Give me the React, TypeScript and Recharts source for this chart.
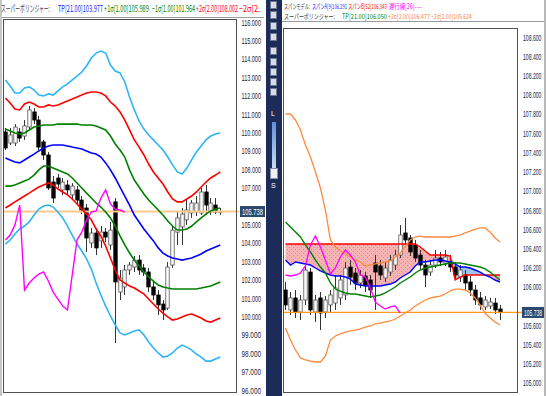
import { useLayoutEffect, useRef, useState } from 'react';
import { ComposedChart, Bar, Line, Area, XAxis, YAxis, ReferenceLine } from 'recharts';

const NUM_FONT = '"Liberation Sans", Arial, sans-serif';
const JP_FONT = '"Noto Sans CJK JP", "Noto Sans", sans-serif';

// ---- left panel (daily) ----
const L_OPEN = [110.06, 109.46, 109.46, 110.06, 109.84, 110.33, 111.15, 110.71, 109.52, 108.81, 107.34, 107.56, 106.91, 107.18, 106.64, 106.91, 106.36, 105.93, 104.03, 104.57, 104.14, 104.62, 103.92, 106.26, 101.36, 101.64, 102.56, 102.72, 103.1, 102.67, 102.45, 101.64, 101.2, 100.71, 100.49, 102.83, 104.62, 104.9, 105.28, 105.66, 105.71, 105.66, 106.8, 105.71, 106.09, 105.74];
const L_HIGH = [110.28, 110.28, 110.49, 110.28, 110.71, 111.47, 111.36, 110.93, 109.63, 108.97, 107.67, 107.78, 107.56, 107.45, 107.28, 107.12, 106.58, 106.15, 104.84, 104.84, 104.95, 104.84, 105.17, 106.47, 102.56, 102.83, 102.99, 103.32, 103.37, 102.89, 102.67, 101.91, 101.47, 100.93, 102.99, 104.95, 105.71, 105.93, 106.36, 106.36, 106.58, 107.02, 107.18, 106.47, 106.47, 105.93];
const L_LOW = [109.08, 109.35, 109.3, 109.52, 109.63, 110.17, 110.49, 109.08, 108.54, 106.91, 106.2, 107.02, 106.64, 106.64, 106.36, 106.09, 105.6, 103.54, 103.76, 103.37, 103.76, 104.08, 103.65, 98.59, 100.93, 101.2, 102.29, 102.45, 102.29, 102.23, 101.36, 100.93, 100.11, 99.84, 100.39, 102.67, 103.92, 103.92, 105.01, 105.39, 105.49, 105.55, 105.55, 105.55, 105.6, 105.55];
const L_CLOSE = [109.19, 109.9, 110.33, 109.73, 110.39, 111.26, 110.71, 109.24, 108.81, 107.02, 106.47, 107.23, 107.34, 106.91, 107.12, 106.36, 105.82, 104.3, 104.57, 103.76, 104.62, 104.35, 104.73, 101.91, 102.12, 102.56, 102.83, 103.1, 102.56, 102.45, 101.64, 101.2, 100.66, 100.39, 102.72, 104.73, 105.39, 105.6, 105.82, 106.2, 106.2, 106.8, 106.09, 106.2, 105.71, 105.74];

const L_TP = [108.65, 108.54, 108.43, 108.38, 108.54, 108.7, 108.86, 109.03, 109.19, 109.3, 109.35, 109.35, 109.35, 109.3, 109.24, 109.19, 109.14, 109.03, 108.92, 108.86, 108.7, 108.38, 108.0, 107.56, 107.07, 106.58, 106.09, 105.55, 105.17, 104.79, 104.46, 104.14, 103.76, 103.48, 103.32, 103.21, 103.16, 103.1, 103.16, 103.21, 103.32, 103.43, 103.59, 103.7, 103.81, 103.92];
const L_P1 = [110.22, 110.11, 110.01, 109.95, 110.01, 110.17, 110.33, 110.39, 110.44, 110.44, 110.44, 110.49, 110.49, 110.49, 110.49, 110.49, 110.44, 110.44, 110.44, 110.39, 110.28, 110.17, 109.84, 109.41, 109.08, 108.7, 108.0, 107.45, 107.07, 106.69, 106.36, 106.09, 105.82, 105.55, 105.22, 104.95, 104.73, 104.73, 104.79, 104.95, 105.17, 105.39, 105.6, 105.77, 105.87, 105.93];
const L_M1 = [107.12, 107.12, 107.18, 107.29, 107.4, 107.51, 107.72, 108.0, 108.21, 108.21, 108.1, 108.0, 107.89, 107.78, 107.56, 107.29, 107.02, 106.74, 106.47, 106.2, 105.98, 105.71, 105.39, 104.95, 104.41, 103.92, 103.48, 103.1, 102.78, 102.45, 102.18, 101.96, 101.74, 101.64, 101.58, 101.53, 101.53, 101.53, 101.53, 101.53, 101.53, 101.58, 101.64, 101.69, 101.8, 101.91];
const L_P2 = [111.91, 111.64, 111.31, 111.26, 111.58, 111.69, 111.58, 111.42, 111.42, 111.53, 111.47, 111.53, 111.64, 111.74, 111.85, 111.96, 112.07, 112.18, 112.23, 112.23, 112.18, 112.02, 111.69, 111.47, 111.15, 110.71, 110.17, 109.63, 109.24, 108.81, 108.32, 107.89, 107.56, 107.23, 106.8, 106.42, 106.26, 106.26, 106.42, 106.58, 106.8, 107.07, 107.34, 107.56, 107.72, 107.89];
const L_M2 = [105.93, 106.09, 106.26, 106.42, 106.58, 106.74, 106.91, 107.07, 107.18, 107.29, 107.18, 106.96, 106.8, 106.64, 106.42, 106.15, 105.87, 105.6, 105.28, 104.79, 104.41, 103.86, 103.21, 102.56, 102.02, 101.85, 101.69, 101.58, 101.42, 101.26, 100.98, 100.71, 100.44, 100.22, 100.01, 99.84, 99.9, 100.01, 100.11, 100.17, 100.06, 99.95, 99.79, 99.73, 99.84, 99.95];
const L_P3 = [112.89, 112.56, 112.18, 112.18, 112.45, 112.51, 112.34, 112.07, 112.02, 112.13, 112.07, 112.29, 112.51, 112.67, 112.89, 113.1, 113.32, 113.65, 114.08, 114.35, 114.46, 114.35, 113.7, 113.37, 113.27, 112.78, 111.96, 111.26, 110.66, 110.22, 109.9, 109.63, 109.35, 109.08, 108.7, 108.27, 107.89, 107.78, 108.1, 108.54, 108.97, 109.3, 109.63, 109.84, 109.95, 110.01];
const L_M3 = [103.97, 104.19, 104.52, 104.79, 104.95, 105.17, 105.55, 105.87, 106.04, 106.09, 105.98, 105.71, 105.39, 104.95, 104.46, 103.97, 103.59, 103.16, 102.61, 101.85, 101.2, 100.6, 100.06, 99.57, 99.14, 99.03, 99.14, 99.24, 99.3, 99.03, 98.65, 98.32, 98.05, 97.83, 97.89, 98.05, 98.32, 98.48, 98.37, 98.21, 97.99, 97.83, 97.61, 97.61, 97.72, 97.83];
const L_LAG = [104.19, 104.46, 105.01, 106.09, 101.47, 101.85, 102.12, 102.34, 102.45, 101.96, 101.36, 100.98, 100.6, 100.39, 102.29, 104.19, 104.62, 105.28, 105.71, 105.77, 106.47, 106.91, 106.15, 105.87, 105.82, 105.71];
const L_TICKS = [96, 97, 98, 99, 100, 101, 102, 103, 104, 105, 106, 107, 108, 109, 110, 111, 112, 113, 114, 115, 116];

// ---- right panel (span model + super bollinger) ----
const R_OPEN = [105.972, 105.764, 105.889, 105.743, 105.868, 106.159, 105.743, 105.889, 105.743, 105.816, 105.836, 105.889, 105.92, 106.211, 106.149, 106.045, 106.118, 106.076, 106.253, 106.222, 106.097, 106.159, 106.232, 106.336, 106.566, 106.514, 106.441, 106.336, 106.232, 106.159, 106.232, 106.305, 106.253, 106.264, 106.211, 106.107, 106.128, 106.055, 105.972, 105.889, 105.795, 105.805, 105.836, 105.774];
const R_HIGH = [106.055, 105.951, 105.972, 105.92, 106.253, 106.201, 105.92, 105.951, 105.909, 105.972, 106.128, 106.128, 106.264, 106.284, 106.201, 106.18, 106.159, 106.128, 106.336, 106.284, 106.264, 106.336, 106.389, 106.649, 106.722, 106.545, 106.493, 106.389, 106.284, 106.284, 106.389, 106.368, 106.389, 106.336, 106.264, 106.232, 106.18, 106.118, 106.024, 105.951, 105.909, 105.889, 105.889, 105.816];
const R_LOW = [105.764, 105.711, 105.68, 105.659, 105.816, 105.711, 105.639, 105.555, 105.68, 105.743, 105.764, 105.816, 105.868, 106.024, 105.972, 105.993, 105.951, 105.889, 105.764, 106.076, 106.055, 106.118, 106.18, 106.305, 106.441, 106.326, 106.264, 106.18, 106.003, 106.118, 106.201, 106.222, 106.222, 106.159, 106.076, 106.055, 105.972, 105.909, 105.816, 105.764, 105.764, 105.774, 105.722, 105.659];
const R_CLOSE = [105.816, 105.889, 105.743, 105.868, 106.18, 105.764, 105.868, 105.732, 105.868, 105.92, 105.993, 106.076, 106.201, 106.107, 106.045, 106.128, 106.024, 105.972, 106.159, 106.128, 106.201, 106.284, 106.336, 106.545, 106.493, 106.368, 106.305, 106.232, 106.128, 106.232, 106.305, 106.264, 106.316, 106.211, 106.128, 106.18, 106.045, 105.972, 105.868, 105.816, 105.868, 105.847, 105.764, 105.738];

const R_TP = [106.68, 106.628, 106.576, 106.524, 106.441, 106.368, 106.284, 106.211, 106.149, 106.045, 105.982, 105.961, 105.941, 105.93, 105.93, 105.92, 105.909, 105.899, 105.909, 105.92, 105.941, 105.972, 106.003, 106.045, 106.076, 106.107, 106.149, 106.18, 106.201, 106.211, 106.222, 106.232, 106.243, 106.253, 106.253, 106.253, 106.243, 106.232, 106.222, 106.211, 106.191, 106.159, 106.118, 106.076];
const R_P2 = [107.805, 107.805, 107.743, 107.639, 107.482, 107.357, 107.201, 107.034, 106.805, 106.493, 106.42, 106.378, 106.347, 106.316, 106.284, 106.264, 106.222, 106.232, 106.243, 106.253, 106.264, 106.274, 106.316, 106.357, 106.43, 106.493, 106.524, 106.534, 106.524, 106.524, 106.524, 106.524, 106.524, 106.524, 106.534, 106.545, 106.566, 106.586, 106.607, 106.618, 106.618, 106.576, 106.514, 106.472];
const R_M2 = [105.576, 105.451, 105.347, 105.264, 105.243, 105.232, 105.222, 105.222, 105.284, 105.451, 105.493, 105.514, 105.534, 105.545, 105.555, 105.566, 105.586, 105.597, 105.618, 105.628, 105.639, 105.649, 105.67, 105.701, 105.732, 105.764, 105.805, 105.836, 105.868, 105.889, 105.899, 105.909, 105.93, 105.961, 105.982, 105.982, 105.972, 105.941, 105.889, 105.816, 105.732, 105.68, 105.639, 105.607];
const R_SPAN_A = [106.284, 106.232, 106.264, 106.253, 106.243, 106.232, 106.201, 106.17, 106.149, 106.128, 106.118, 106.118, 106.107, 106.086, 106.034, 106.024, 106.014, 106.014, 106.014, 106.014, 106.024, 106.034, 106.055, 106.097, 106.128, 106.159, 106.222, 106.264, 106.264, 106.274, 106.284, 106.284, 106.274, 106.264, 106.243, 106.211, 106.211, 106.201, 106.18, 106.159, 106.128, 106.107, 106.076, 106.055];
const R_SPAN_B = [106.451, 106.451, 106.451, 106.451, 106.451, 106.451, 106.451, 106.451, 106.451, 106.451, 106.451, 106.451, 106.451, 106.451, 106.451, 106.451, 106.451, 106.451, 106.451, 106.451, 106.451, 106.451, 106.451, 106.451, 106.451, 106.451, 106.451, 106.42, 106.378, 106.336, 106.336, 106.336, 106.336, 106.326, 106.076, 106.107, 106.128, 106.128, 106.128, 106.128, 106.128, 106.128, 106.128, 106.128];
const R_LAG = [106.128, 106.118, 106.128, 106.149, 106.222, 106.441, 106.534, 106.42, 106.284, 106.139, 106.201, 106.316, 106.389, 106.336, 106.264, 106.128, 106.107, 105.993, 105.847, 105.805, 105.774, 105.795, 105.805, 105.732];
const R_TICKS = [105.0, 105.2, 105.4, 105.6, 105.8, 106.0, 106.2, 106.4, 106.6, 106.8, 107.0, 107.2, 107.4, 107.6, 107.8, 108.0, 108.2, 108.4, 108.6];

const LAST_PRICE = 105.738;

const leftData = Array.from({ length: 49 }, (_, i) =>
  i < L_OPEN.length
    ? {
        i,
        o: L_OPEN[i],
        h: L_HIGH[i],
        l: L_LOW[i],
        c: L_CLOSE[i],
        range: [L_LOW[i], L_HIGH[i]],
        tp: L_TP[i],
        p1: L_P1[i],
        m1: L_M1[i],
        p2: L_P2[i],
        m2: L_M2[i],
        p3: L_P3[i],
        m3: L_M3[i],
        lag: i < L_LAG.length ? L_LAG[i] : null,
      }
    : { i },
);

const rightData = Array.from({ length: 47 }, (_, i) =>
  i < R_OPEN.length
    ? {
        i,
        o: R_OPEN[i],
        h: R_HIGH[i],
        l: R_LOW[i],
        c: R_CLOSE[i],
        range: [R_LOW[i], R_HIGH[i]],
        tp: R_TP[i],
        p2: R_P2[i],
        m2: R_M2[i],
        a: R_SPAN_A[i],
        b: R_SPAN_B[i],
        pink: [R_SPAN_A[i], Math.max(R_SPAN_A[i], R_SPAN_B[i])],
        blue: [R_SPAN_B[i], Math.max(R_SPAN_A[i], R_SPAN_B[i])],
        lag: i < R_LAG.length ? R_LAG[i] : null,
      }
    : { i },
);

// text squeezed horizontally to a given width (the source screenshot is condensed)
function FitText({ x, y, width, size, fill, family, children }: any) {
  const ref = useRef<SVGTextElement>(null);
  const [k, setK] = useState(1);
  useLayoutEffect(() => {
    if (ref.current) {
      const n = ref.current.getComputedTextLength();
      if (n > 0) setK(width / n);
    }
  }, [width, children]);
  return (
    <g transform={`translate(${x},${y}) scale(${k},1)`}>
      <text ref={ref} x={0} y={0} fontSize={size} fill={fill} fontFamily={family}>
        {children}
      </text>
    </g>
  );
}

function Candle(props: any) {
  const { x, y, width, height, payload } = props;
  if (!payload || payload.o == null) return null;
  const top = Math.min(y, y + height);
  const h = Math.abs(height);
  const span = payload.h - payload.l || 1;
  const py = (v: number) => top + ((payload.h - v) / span) * h;
  const cx = Math.round(x + width / 2) + 0.5;
  const up = payload.c >= payload.o;
  const bt = py(Math.max(payload.o, payload.c));
  const bb = py(Math.min(payload.o, payload.c));
  const bw = 3.4;
  return (
    <g>
      <line x1={cx} x2={cx} y1={top} y2={top + h} stroke="#333" strokeWidth={1} />
      <rect
        x={cx - bw / 2}
        y={bt}
        width={bw}
        height={Math.max(1, bb - bt)}
        fill={up ? '#ffffff' : '#000000'}
        stroke={up ? '#555' : '#000'}
        strokeWidth={0.8}
      />
    </g>
  );
}

function AxisTick(props: any) {
  const { y, payload, tx, w, skip } = props;
  if (!payload || skip(payload.value)) return null;
  return (
    <FitText x={tx} y={y + 3} width={w} size={8.5} fill="#1c1c3a" family={NUM_FONT}>
      {payload.value.toFixed(3)}
    </FitText>
  );
}

function PriceTag(props: any) {
  const { viewBox, boxX, boxW, color } = props;
  if (!viewBox) return null;
  const y = viewBox.y;
  const right = viewBox.x + viewBox.width;
  return (
    <g>
      <line x1={right} x2={boxX} y1={y} y2={y} stroke={color} strokeWidth={1.5} />
      <rect x={boxX} y={y - 5.5} width={boxW} height={11} fill="#2b4a6b" />
      <FitText x={boxX + 2} y={y + 3.2} width={boxW - 4} size={8.5} fill="#ffffff" family={NUM_FONT}>
        {LAST_PRICE.toFixed(3)}
      </FitText>
    </g>
  );
}

const HEAD_LEFT = [
  { x: 1, w: 49, color: '#404040', text: 'スーパーボリンジャー:' },
  { x: 58, w: 45, color: '#2020ff', text: 'TP[21.00]103.977' },
  { x: 104, w: 45, color: '#008000', text: '+1σ[1.00]105.989' },
  { x: 152, w: 43, color: '#008000', text: '−1σ[1.00]101.964' },
  { x: 196, w: 42, color: '#ff0000', text: '+2σ[2.00]108.002' },
  { x: 239, w: 21, color: '#ff0000', text: '−2σ[2.' },
];
const HEAD_RIGHT_1 = [
  { x: 2, w: 26, color: '#404040', text: 'スパンモデル:' },
  { x: 30, w: 35, color: '#2020ff', text: 'スパンA[9]106.291' },
  { x: 66, w: 39, color: '#ff0000', text: 'スパンB[52]106.343' },
  { x: 107, w: 33, color: '#ff00ff', text: '遅行線[26]----' },
];
const HEAD_RIGHT_2 = [
  { x: 2, w: 51, color: '#404040', text: 'スーパーボリンジャー:' },
  { x: 60, w: 45, color: '#008000', text: 'TP[21.00]106.050' },
  { x: 106, w: 42, color: '#ff8040', text: '+2σ[2.00]106.477' },
  { x: 149, w: 41, color: '#ff8040', text: '−2σ[2.00]105.624' },
];

const TOOL_ICONS = [1, 11, 22, 33, 47, 58, 68, 78, 88];

function HeadRow({ items, y, size }: { items: typeof HEAD_LEFT; y: number; size: number }) {
  return (
    <>
      {items.map((t) => (
        <FitText key={t.text} x={t.x} y={y} width={t.w} size={size} fill={t.color} family={JP_FONT}>
          {t.text}
        </FitText>
      ))}
    </>
  );
}

export default function App() {
  return (
    <div style={{ position: 'absolute', left: 0, top: 0, width: 546, height: 396, background: '#fff', overflow: 'hidden' }}>
      {/* left panel frame */}
      <div style={{ position: 'absolute', left: 0, top: 0, width: 2, height: 396, background: '#c6c6c6' }} />
      <div style={{ position: 'absolute', left: 2, top: 17, width: 262, height: 1, background: '#9c9c9c' }} />

      <div style={{ position: 'absolute', left: 0, top: 0 }}>
        <ComposedChart width={266} height={396} data={leftData} margin={{ top: 19, right: 0, bottom: 3, left: 3 }}>
          <XAxis dataKey="i" hide />
          <YAxis
            orientation="right"
            domain={[95.875, 116.201]}
            allowDataOverflow
            ticks={L_TICKS}
            interval={0}
            width={29}
            axisLine={false}
            tickLine={false}
            tick={<AxisTick tx={241.5} w={19.5} skip={(v: number) => Math.abs(v - LAST_PRICE) < 0.3} />}
          />
          <ReferenceLine
            y={LAST_PRICE}
            stroke="#ffc98f"
            strokeWidth={2}
            label={<PriceTag boxX={240} boxW={25} color="#ffc98f" />}
          />
          <Bar dataKey="range" barSize={4} shape={<Candle />} isAnimationActive={false} />
          <Line dataKey="p3" stroke="#2db6f5" strokeWidth={1.6} dot={false} activeDot={false} isAnimationActive={false} />
          <Line dataKey="m3" stroke="#2db6f5" strokeWidth={1.6} dot={false} activeDot={false} isAnimationActive={false} />
          <Line dataKey="p2" stroke="#ff0000" strokeWidth={1.6} dot={false} activeDot={false} isAnimationActive={false} />
          <Line dataKey="m2" stroke="#ff0000" strokeWidth={1.6} dot={false} activeDot={false} isAnimationActive={false} />
          <Line dataKey="p1" stroke="#008000" strokeWidth={1.6} dot={false} activeDot={false} isAnimationActive={false} />
          <Line dataKey="m1" stroke="#008000" strokeWidth={1.6} dot={false} activeDot={false} isAnimationActive={false} />
          <Line dataKey="tp" stroke="#0000ff" strokeWidth={1.6} dot={false} activeDot={false} isAnimationActive={false} />
          <Line dataKey="lag" stroke="#ff00ff" strokeWidth={1.4} dot={false} activeDot={false} isAnimationActive={false} />
        </ComposedChart>
      </div>
      <div style={{ position: 'absolute', left: 3, top: 19, width: 234, height: 374, border: '1px solid #505050', boxSizing: 'border-box' }} />

      {/* toolbar strip */}
      <div style={{ position: 'absolute', left: 266, top: 0, width: 16, height: 396, background: '#1d2b58' }}>
        {TOOL_ICONS.map((t) => (
          <div
            key={t}
            style={{ position: 'absolute', left: 4, top: t, width: 7, height: 8, background: '#d8dce6', border: '1px solid #6b7490', boxSizing: 'border-box' }}
          />
        ))}
        <div style={{ position: 'absolute', left: 5, top: 110, fontSize: 7, lineHeight: '8px', color: '#fff', fontFamily: NUM_FONT }}>L</div>
        <div style={{ position: 'absolute', left: 6, top: 122, width: 4, height: 48, background: 'linear-gradient(#5f8fd8, #cfe0f7)' }} />
        <div style={{ position: 'absolute', left: 4, top: 168, width: 8, height: 11, background: '#f2f2f2', border: '1px solid #8890a8', boxSizing: 'border-box' }} />
        <div style={{ position: 'absolute', left: 5, top: 182, fontSize: 7, lineHeight: '8px', color: '#fff', fontFamily: NUM_FONT }}>S</div>
      </div>

      {/* right panel frame */}
      <div style={{ position: 'absolute', left: 282, top: 21, width: 262, height: 1, background: '#9c9c9c' }} />
      <div style={{ position: 'absolute', left: 544, top: 0, width: 2, height: 396, background: '#b8b8b8' }} />

      <div style={{ position: 'absolute', left: 282, top: 0 }}>
        <ComposedChart width={262} height={396} data={rightData} margin={{ top: 28, right: 0, bottom: 3, left: 1 }}>
          <defs>
            <pattern id="pinkDots" width="4" height="4" patternUnits="userSpaceOnUse">
              <rect width="4" height="4" fill="#f6b3b3" />
              <rect x="1" y="1" width="1" height="1" fill="#ea8a8a" />
              <rect x="3" y="3" width="1" height="1" fill="#ea8a8a" />
            </pattern>
          </defs>
          <XAxis dataKey="i" hide />
          <YAxis
            orientation="right"
            domain={[104.899, 108.701]}
            allowDataOverflow
            ticks={R_TICKS}
            interval={0}
            width={26.5}
            axisLine={false}
            tickLine={false}
            tick={<AxisTick tx={241} w={18.5} skip={(v: number) => Math.abs(v - LAST_PRICE) < 0.1} />}
          />
          <Area dataKey="pink" type="linear" stroke="none" fill="url(#pinkDots)" fillOpacity={1} isAnimationActive={false} activeDot={false} />
          <Area dataKey="blue" type="linear" stroke="none" fill="#9fc4ea" fillOpacity={1} isAnimationActive={false} activeDot={false} />
          <ReferenceLine
            y={LAST_PRICE}
            stroke="#ff9a1a"
            strokeWidth={1.3}
            label={<PriceTag boxX={240} boxW={22} color="#ff9a1a" />}
          />
          <Bar dataKey="range" barSize={4} shape={<Candle />} isAnimationActive={false} />
          <Line dataKey="b" stroke="#ff0000" strokeWidth={1.4} dot={false} activeDot={false} isAnimationActive={false} />
          <Line dataKey="a" stroke="#0000ff" strokeWidth={1.4} dot={false} activeDot={false} isAnimationActive={false} />
          <Line dataKey="p2" stroke="#ff8a3d" strokeWidth={1.3} dot={false} activeDot={false} isAnimationActive={false} />
          <Line dataKey="m2" stroke="#ff8a3d" strokeWidth={1.3} dot={false} activeDot={false} isAnimationActive={false} />
          <Line dataKey="tp" stroke="#008000" strokeWidth={1.4} dot={false} activeDot={false} isAnimationActive={false} />
          <Line dataKey="lag" stroke="#ff00ff" strokeWidth={1.3} dot={false} activeDot={false} isAnimationActive={false} />
        </ComposedChart>
      </div>
      <div style={{ position: 'absolute', left: 283, top: 28, width: 235, height: 365, border: '1px solid #505050', boxSizing: 'border-box' }} />

      {/* legend headers */}
      <svg width={263} height={17} style={{ position: 'absolute', left: 0, top: 0 }}>
        <HeadRow items={HEAD_LEFT} y={12} size={9} />
      </svg>
      <svg width={262} height={21} style={{ position: 'absolute', left: 282, top: 0 }}>
        <HeadRow items={HEAD_RIGHT_1} y={8.5} size={7} />
        <HeadRow items={HEAD_RIGHT_2} y={19} size={7} />
      </svg>
    </div>
  );
}
